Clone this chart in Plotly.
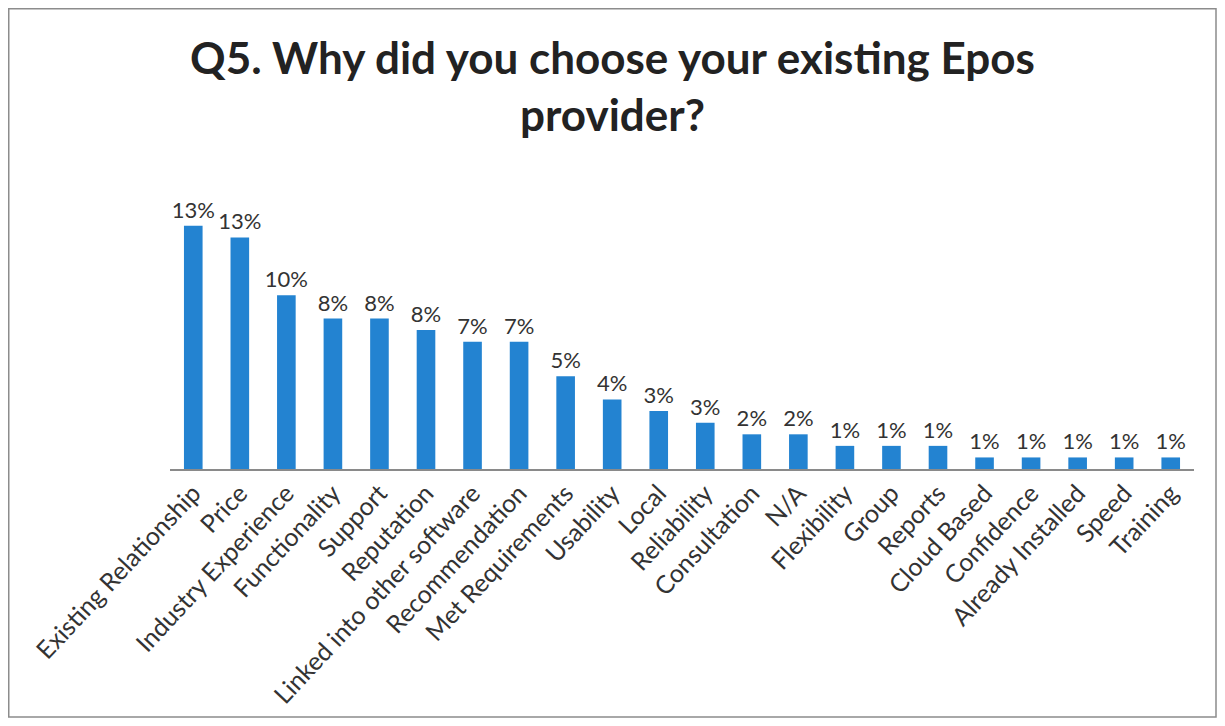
import plotly.graph_objects as go

categories = ["Existing Relationship", "Price", "Industry Experience", "Functionality",
              "Support", "Reputation", "Linked into other software", "Recommendation",
              "Met Requirements", "Usability", "Local", "Reliability", "Consultation",
              "N/A", "Flexibility", "Group", "Reports", "Cloud Based", "Confidence",
              "Already Installed", "Speed", "Training"]
values = [13.46, 12.82, 9.62, 8.33, 8.33, 7.69, 7.05, 7.05, 5.13, 3.85, 3.21, 2.56,
          1.92, 1.92, 1.28, 1.28, 1.28, 0.64, 0.64, 0.64, 0.64, 0.64]
title_text = "Q5. Why did you choose your existing Epos<br>provider?"

# page body has an 8px margin: figure coordinates = screen - 8
W, H = 1209, 710
L, R, T, B = 162, 1186, 190, 461
FONT = "Lato, Open Sans, sans-serif"

fig = go.Figure(go.Bar(
    x=categories, y=values,
    marker=dict(color="#2383D1", line=dict(width=0)),
    texttemplate="%{y:.0f}%", textposition="outside", constraintext="none",
    textfont=dict(family=FONT, size=22, color="#333333"),
    cliponaxis=False,
))

def px(x):
    return (x - L) / (R - L)

def py(y):
    return (B - y) / (B - T)

fig.update_layout(
    width=W, height=H,
    margin=dict(l=L, r=W - R, t=T, b=H - B, autoexpand=False),
    paper_bgcolor="white", plot_bgcolor="white",
    bargap=0.6, showlegend=False,
    title=dict(text=title_text, x=0.5, xref="container", xanchor="center",
               y=1 - 66 / H, yref="container", yanchor="top", automargin=False,
               font=dict(family=FONT, size=44, color="#222222", weight="bold")),
    xaxis=dict(tickangle=-47, showgrid=False, showline=True, linecolor="#8a8a8a",
               linewidth=1.5, ticks="", automargin=False, ticklabelstandoff=-2,
               tickfont=dict(family=FONT, size=25, color="#333333")),
    yaxis=dict(range=[0, 15], visible=False, showgrid=False, automargin=False),
    shapes=[dict(type="rect", xref="paper", yref="paper",
                 x0=px(0.75), x1=px(1208), y0=py(709), y1=py(0.75),
                 line=dict(color="#8c8c8c", width=1.5), fillcolor="rgba(0,0,0,0)",
                 layer="below")],
)

fig.write_html("out.html")
